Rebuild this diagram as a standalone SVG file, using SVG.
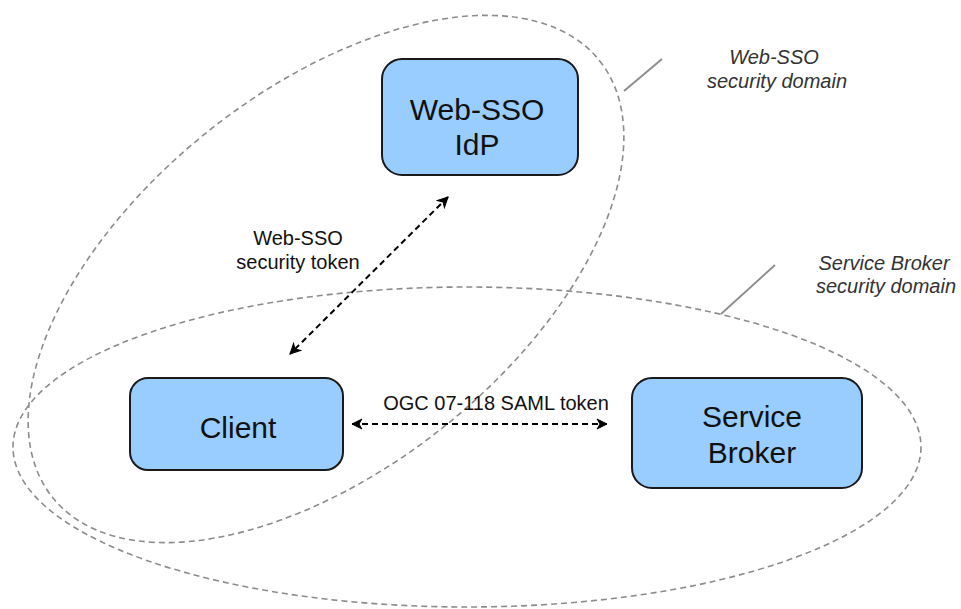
<svg xmlns="http://www.w3.org/2000/svg" width="961" height="609" viewBox="0 0 961 609">
  <style>
    .domain { fill: none; stroke: #8c8c8c; stroke-width: 1.6; stroke-dasharray: 6 4; }
    .callout { fill: none; stroke: #8c8c8c; stroke-width: 1.8; }
    .box { fill: #99ccff; stroke: #1a1a1a; stroke-width: 2; }
    .boxtext { font-family: "Liberation Sans", Arial, sans-serif; font-size: 30px; fill: #111; text-anchor: middle; }
    .label { font-family: "Liberation Sans", Arial, sans-serif; font-size: 20px; fill: #111; text-anchor: middle; }
    .dlabel { font-family: "Liberation Sans", Arial, sans-serif; font-size: 20px; font-style: italic; fill: #333; text-anchor: middle; }
    .conn { fill: none; stroke: #000; stroke-width: 2; stroke-dasharray: 6 4; }
  </style>
  <defs>
    <marker id="arrow" viewBox="0 0 12 12" refX="11" refY="6" markerWidth="12" markerHeight="12" markerUnits="userSpaceOnUse" orient="auto-start-reverse">
      <path d="M1,1 L11,6 L1,11 L4,6 Z" fill="#000" stroke="#000" stroke-width="1" stroke-linejoin="miter"/>
    </marker>
  </defs>
  <rect width="961" height="609" fill="#fff"/>

  <g id="domains">
    <ellipse id="websso-domain" class="domain" cx="326" cy="279" rx="350" ry="189" transform="rotate(-38.6 326 279)"/>
    <ellipse id="broker-domain" class="domain" cx="467" cy="447" rx="454" ry="160"/>
    <line class="callout" x1="624" y1="91" x2="662" y2="59"/>
    <line class="callout" x1="721" y1="314" x2="775" y2="265"/>
    <text class="dlabel" x="774" y="64">Web-SSO</text>
    <text class="dlabel" x="777" y="88">security domain</text>
    <text class="dlabel" x="884" y="270">Service Broker</text>
    <text class="dlabel" x="886" y="293">security domain</text>
  </g>

  <g id="connectors">
    <line class="conn" x1="448" y1="197" x2="290" y2="354" marker-start="url(#arrow)" marker-end="url(#arrow)"/>
    <line class="conn" x1="352" y1="424" x2="607" y2="424" marker-start="url(#arrow)" marker-end="url(#arrow)"/>
    <text class="label" x="298" y="245">Web-SSO</text>
    <text class="label" x="298" y="269">security token</text>
    <text class="label" x="496" y="410">OGC 07-118 SAML token</text>
  </g>

  <g id="idp">
    <rect class="box" x="382" y="59" width="196" height="116" rx="20" ry="20"/>
    <text class="boxtext" x="477" y="120">Web-SSO</text>
    <text class="boxtext" x="477" y="155">IdP</text>
  </g>

  <g id="client">
    <rect class="box" x="130" y="378" width="213" height="92" rx="18" ry="18"/>
    <text class="boxtext" x="238" y="438">Client</text>
  </g>

  <g id="service-broker">
    <rect class="box" x="632" y="378" width="230" height="110" rx="20" ry="20"/>
    <text class="boxtext" x="752" y="427">Service</text>
    <text class="boxtext" x="752" y="463">Broker</text>
  </g>
</svg>
